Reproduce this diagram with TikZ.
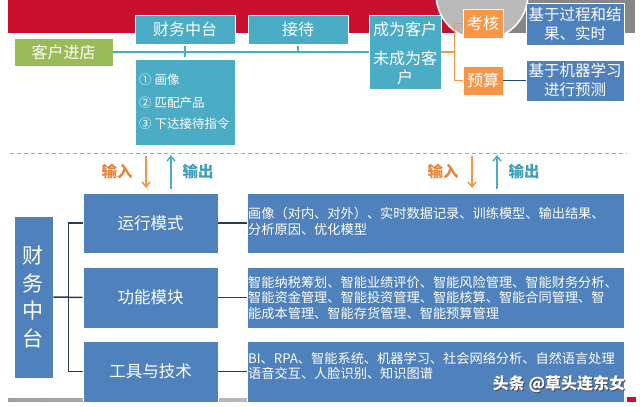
\documentclass[tikz,border=0pt]{standalone}
\usepackage{fontspec}
\setmainfont{Noto Sans CJK SC}
\usetikzlibrary{arrows.meta}
\definecolor{cteal}{HTML}{4BACC6}
\definecolor{cteald}{HTML}{3FA0B9}
\definecolor{cblue}{HTML}{4F81BD}
\definecolor{cgreen}{HTML}{9BBB59}
\definecolor{corange}{HTML}{F79646}
\definecolor{corangetxt}{HTML}{E8843A}
\definecolor{cred}{RGB}{200,16,46}
\definecolor{cgrey}{RGB}{135,135,135}
\definecolor{cline}{RGB}{45,60,85}
\definecolor{cnavy}{RGB}{31,73,125}
\tikzset{
  box/.style={draw=white,line width=0.8pt,inner sep=0pt,text=white,align=center},
  tealbox/.style={box,fill=cteal},
  bluebox/.style={box,fill=cblue},
  greenbox/.style={box,fill=cgreen},
  orangebox/.style={box,fill=corange},
  ftop/.style={font=\fontsize{16}{19}\selectfont},
  fsmall/.style={font=\fontsize{12.5}{15}\selectfont},
  fbody/.style={font=\fontsize{13.2}{15.5}\selectfont},
  fmid/.style={font=\fontsize{16.5}{19}\selectfont},
  plain/.style={inner sep=0pt,text=white},
  tealline/.style={draw=cteal,line width=1.5pt},
  orangeline/.style={draw=corange,line width=1.5pt},
  darkline/.style={draw=cline,line width=1.5pt},
  arr/.style={line width=1.5pt,-{Straight Barb[length=5pt,width=8pt]}},
}
\begin{document}
\begin{tikzpicture}[x=1pt,y=-1pt]
\useasboundingbox (0,0) rectangle (640,407);
\fill[white] (0,0) rectangle (640,407);

% top band
\begin{scope}
\clip (8,0) rectangle (635,33);
\fill[cgrey] (438,0) rectangle (635,33);
\fill[cred] (8,0) rectangle (465,33);
\fill[gray!55,draw=white,line width=1.5pt] (482,-6) circle[radius=46];
\end{scope}

% top flow
\node[greenbox,ftop,minimum width=99pt,minimum height=28pt] (kehu) at (63.5,52) {客户进店};
\node[tealbox,ftop,minimum width=100pt,minimum height=29pt] (cwzt) at (185,29.5) {财务中台};
\node[tealbox,ftop,minimum width=100pt,minimum height=29pt] (jd) at (298,29.5) {接待};
\node[tealbox,minimum width=100pt,minimum height=86pt] (steps) at (185,102) {};
\node[plain,fsmall,anchor=west] (s1) at (139,80) {① 画像};
\node[plain,fsmall,anchor=west] (s2) at (139,102.5) {② 匹配产品};
\node[plain,fsmall,anchor=west] (s3) at (139,124) {③ 下达接待指令};
\node[tealbox,minimum width=72pt,minimum height=74pt] (cust) at (405,52) {};
\node[plain,ftop] (c1) at (405,29) {成为客户};
\node[plain,ftop,align=center] (c2) at (405,67.5) {未成为客\\户};
\node[orangebox,ftop,minimum width=40pt,minimum height=29pt] (kh) at (483,23.5) {考核};
\node[orangebox,ftop,minimum width=40pt,minimum height=29pt] (ys) at (483,80.5) {预算};
\node[bluebox,font=\fontsize{15.5}{19}\selectfont,minimum width=98pt,minimum height=42pt] (jg1) at (575,24) {基于过程和结\\果、实时};
\node[bluebox,font=\fontsize{15.5}{19}\selectfont,minimum width=98pt,minimum height=41pt] (jg2) at (575,80.5) {基于机器学习\\进行预测};

\draw[tealline] (kehu.east) -- (cust.west);
\coordinate (t1) at (185,57);
\coordinate (t2) at (298,53);
\draw[tealline] ([yshift=-2pt]cwzt.south) -- (t1);
\draw[tealline] ([yshift=-2pt]jd.south) -- (t2);
\coordinate (br) at (455,52);
\draw[orangeline] (cust.east) -- (br);
\draw[orangeline] (kh.west) -- ++(-8,0) |- (ys.west);
\draw[draw=cnavy,line width=1.5pt] (ys.east) -- (jg2.west);

% dashed divider
\coordinate (d1) at (10,153.5);
\coordinate (d2) at (627,153.5);
\draw[draw=corange,line width=1pt,dash pattern=on 4pt off 3pt] (d1) -- (d2);

% arrows
\coordinate (a1s) at (146,156);
\coordinate (a1e) at (146,188);
\coordinate (a2s) at (171,189);
\coordinate (a2e) at (171,155);
\coordinate (a3s) at (472,156);
\coordinate (a3e) at (472,188);
\coordinate (a4s) at (497,189);
\coordinate (a4e) at (497,155);
\draw[arr,corange] (a1s) -- (a1e);
\draw[arr,cteal] (a2s) -- (a2e);
\draw[arr,corange] (a3s) -- (a3e);
\draw[arr,cteal] (a4s) -- (a4e);
\node[inner sep=0pt,text=corangetxt,font=\fontsize{15.5}{18}\selectfont\bfseries] (in1) at (117,172) {输入};
\node[inner sep=0pt,text=cteald,font=\fontsize{15.5}{18}\selectfont\bfseries] (out1) at (198,172) {输出};
\node[inner sep=0pt,text=corangetxt,font=\fontsize{15.5}{18}\selectfont\bfseries] (in2) at (443,172) {输入};
\node[inner sep=0pt,text=cteald,font=\fontsize{15.5}{18}\selectfont\bfseries] (out2) at (524,172) {输出};

% bottom grey bar
\shade[left color=gray!75,right color=gray!25] (8,398) rectangle (626,401);
\fill[cred] (627,397) rectangle (636,402);

% bottom section
\node[bluebox,font=\fontsize{21}{27.5}\selectfont,minimum width=39pt,minimum height=162pt] (cwv) at (33.5,297) {财\\务\\中\\台};
\node[bluebox,fmid,minimum width=135pt,minimum height=60pt] (yx) at (150.5,223) {运行模式};
\node[bluebox,fmid,minimum width=135pt,minimum height=61pt] (gn) at (150.5,297.5) {功能模块};
\node[bluebox,fmid,minimum width=135pt,minimum height=61pt] (gj) at (150.5,371.5) {工具与技术};
\node[bluebox,minimum width=377pt,minimum height=60pt] (yxr) at (435.5,223) {};
\node[bluebox,minimum width=377pt,minimum height=61pt] (gnr) at (435.5,297.5) {};
\node[bluebox,minimum width=377pt,minimum height=61pt] (gjr) at (435.5,371.5) {};
\node[plain,fbody,align=left,anchor=west] (x1) at (248,221.5) {画像（对内、对外）、实时数据记录、训练模型、输出结果、\\分析原因、优化模型};
\node[plain,fbody,align=left,anchor=west] (x2) at (248,297.5) {智能纳税筹划、智能业绩评价、智能风险管理、智能财务分析、\\智能资金管理、智能投资管理、智能核算、智能合同管理、智\\能成本管理、智能存货管理、智能预算管理};
\node[plain,fbody,align=left,anchor=west] (x3) at (248,366) {BI、RPA、智能系统、机器学习、社会网络分析、自然语言处理\\语音交互、人脸识别、知识图谱};

\draw[darkline] (yx.west) -- ++(-14,0) |- (gj.west);
\draw[darkline] (cwv.east) -- (gn.west);
\draw[darkline] (yx.east) -- (yxr.west);
\draw[darkline] (gn.east) -- (gnr.west);
\draw[darkline] (gj.east) -- (gjr.west);

% watermark
\node[inner sep=0pt,text=black!70,font=\fontsize{16}{20}\selectfont\bfseries] (wms) at (560,385) {头条 @草头连东女};
\node[inner sep=0pt,text=white,font=\fontsize{16}{20}\selectfont\bfseries] (wm) at (559,384) {头条 @草头连东女};
\end{tikzpicture}
\end{document}
